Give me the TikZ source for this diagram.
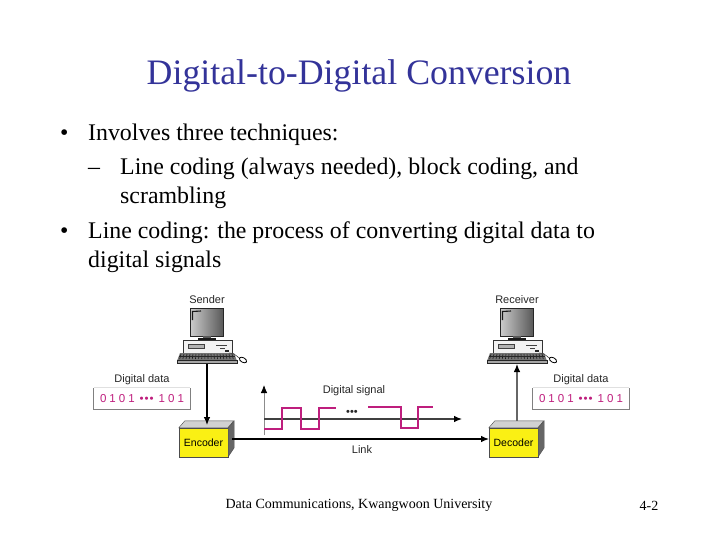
\documentclass[tikz,border=0pt]{standalone}
\usepackage{fontspec}
\setmainfont{Liberation Serif}
\newfontfamily\labelfont{Liberation Sans}
\usetikzlibrary{calc}
\usetikzlibrary{arrows.meta}
\definecolor{titleBlue}{RGB}{51,51,153}
\definecolor{signalPink}{RGB}{190,30,125}
\definecolor{boxYellow}{RGB}{250,240,20}
\newcommand{\dataBits}{0\kern3pt 1\kern3pt 0\kern3pt 1\kern5pt •\kern1pt •\kern1pt •\kern5pt 1\kern3pt 0\kern3pt 1}
\tikzset{
  titleNode/.style={%
    inner sep=0pt, text=titleBlue, font=\fontsize{35.8}{36}\selectfont,
  },
  bodyNode/.style={%
    inner sep=0pt, anchor=base west, font=\fontsize{23.85}{24}\selectfont,
  },
  footNode/.style={%
    inner sep=0pt, font=\fontsize{14}{14}\selectfont,
  },
  labelNode/.style={%
    inner sep=0pt, font=\labelfont\fontsize{11}{11}\selectfont, text=black!85,
  },
  dataNode/.style={%
    inner sep=0pt, minimum width=96pt, minimum height=21pt, text=signalPink,
    font=\labelfont\fontsize{11.5}{11.5}\selectfont,
  },
  coderNode/.style={%
    draw=black!70, fill=boxYellow, inner sep=0pt, minimum width=49pt, minimum height=29pt,
    font=\labelfont\fontsize{10.5}{10.5}\selectfont,
  },
  linkArrow/.style={%
    -{Latex[length=8pt,width=6.5pt,black]}, line width=1.1pt,
  },
  computer/.pic={
    \shade[left color=black!20,right color=black!65] (-17,9) rectangle (16,37);
    \draw[black!85,line width=1pt] (-17,9) rectangle (16,37);
    \draw[black!90,line width=1.1pt] (-14.5,21) -- (-14.5,12.5) -- (-6,12);
    \fill[black!65] (-4,37) rectangle (4,39);
    \fill[black!90] (-9,39) rectangle (9,41);
    \draw[black!80,line width=0.8pt,fill=black!5] (-24,41) rectangle (25,54);
    \draw[black!75,fill=black!30] (-19,45) rectangle (-3,49);
    \draw[black!75,line width=0.9pt] (9,46) -- (20,46) (13,49) -- (18,49);
    \fill[black!85] (18,51) rectangle (22,53);
    \fill[black!55] (-27,54) -- (27,54) -- (30,62) -- (-30,62) -- cycle;
    \foreach \keyX in {-26,-23,...,26} {
      \draw[black!90,line width=0.6pt] (\keyX,55) -- (\keyX*1.05,60);
    }
    \draw[black!85,line width=0.5pt] (-28,57.5) -- (28,57.5);
    \draw[black!85,line width=0.8pt,fill=black!35] (-30,61.5) -- (30,61.5) -- (30,64.5) -- (-30,64.5) -- cycle;
    \draw[black!75,line width=0.6pt] (22,54) .. controls (26,54) and (29,56) .. (32,59);
    \draw[black,line width=0.8pt,fill=white] (36,61) ellipse[x radius=4pt,y radius=2.3pt,rotate=-30];
    \coordinate (-kbd) at (0,65);
  },
}
\begin{document}
\begin{tikzpicture}[x=1pt,y=-1pt]
  \useasboundingbox (0,0) rectangle (720,540);

  \node[titleNode] (title) at (359,75.5) {Digital-to-Digital Conversion};

  \node[bodyNode] (bulletA) at (60,141) {•};
  \node[bodyNode] (lineA) at (88,141) {Involves three techniques:};
  \node[bodyNode] (dashA) at (88,175) {–};
  \node[bodyNode] (lineB) at (120,175) {Line coding (always needed), block coding, and};
  \node[bodyNode] (lineC) at (120,204) {scrambling};
  \node[bodyNode] (bulletB) at (60,239) {•};
  \node[bodyNode] (lineD) at (88,239) {Line coding: the process of converting digital data to};
  \node[bodyNode] (lineE) at (88,267) {digital signals};

  \node[labelNode] (senderLabel) at (207,299.5) {Sender};
  \node[labelNode] (receiverLabel) at (517,299.5) {Receiver};
  \pic (sender) at (207,299) {computer};
  \pic (receiver) at (517,299) {computer};

  \node[labelNode] (dataLabelA) at (142,379.5) {Digital data};
  \node[labelNode] (dataLabelB) at (581,379.5) {Digital data};
  \node[dataNode] (dataA) at (142,398.5) {\dataBits};
  \node[dataNode] (dataB) at (581,398.5) {\dataBits};
  \draw[black!12,line width=0.7pt] (dataA.north west) -- (dataA.north east);
  \draw[black!12,line width=0.7pt] (dataB.north west) -- (dataB.north east);
  \draw[black!50,line width=0.7pt] (dataA.north west) -- (dataA.south west) -- (dataA.south east) -- (dataA.north east);
  \draw[black!50,line width=0.7pt] (dataB.north west) -- (dataB.south west) -- (dataB.south east) -- (dataB.north east);

  \node[coderNode] (encoder) at (203.5,442.5) {Encoder};
  \node[coderNode] (decoder) at (513.5,442.5) {Decoder};
  \foreach \boxName in {encoder,decoder} {
    \draw[black!70,fill=black!18] (\boxName.north west) -- ++(6,-7) -- ++(49,0) -- ++(-6,7) -- cycle;
    \draw[black!70,fill=black!60] (\boxName.north east) -- ++(6,-7) -- ++(0,27) -- ++(-6,9) -- cycle;
  }

  \coordinate (axisStart) at (264,435);
  \coordinate (axisEnd) at (264,385);
  \coordinate (timeStart) at (264,419);
  \coordinate (timeEnd) at (462,419);
  \coordinate (encoderTop) at (207,425);
  \coordinate (decoderTop) at (517,421);
  \coordinate (linkStart) at (232,439);
  \coordinate (linkEnd) at (489,439);

  \draw[linkArrow,black!45,line width=0.8pt] (axisStart) -- (axisEnd);
  \draw[linkArrow,black!75] (timeStart) -- (timeEnd);
  \draw[signalPink,line width=1.9pt] (264,429) -- (282,429) -- (282,408) -- (301,408) -- (301,429) -- (319,429) -- (319,408) -- (336,408);
  \draw[signalPink,line width=1.9pt] (368,407) -- (401,407) -- (401,428) -- (418,428) -- (418,407) -- (433,407);
  \node[labelNode] (signalLabel) at (354,391) {Digital signal};
  \node[labelNode] (signalDots) at (352,413) {•••};
  \node[labelNode] (linkLabel) at (362,450) {Link};

  \draw[linkArrow,black] (sender-kbd) -- (encoderTop);
  \draw[linkArrow,black!60] (decoderTop) -- (receiver-kbd);
  \draw[linkArrow,black] (linkStart) -- (linkEnd);

  \node[footNode] (footer) at (359,505.5) {Data Communications, Kwangwoon University};
  \node[footNode] (pageNo) at (649,505.5) {4-2};
\end{tikzpicture}
\end{document}
